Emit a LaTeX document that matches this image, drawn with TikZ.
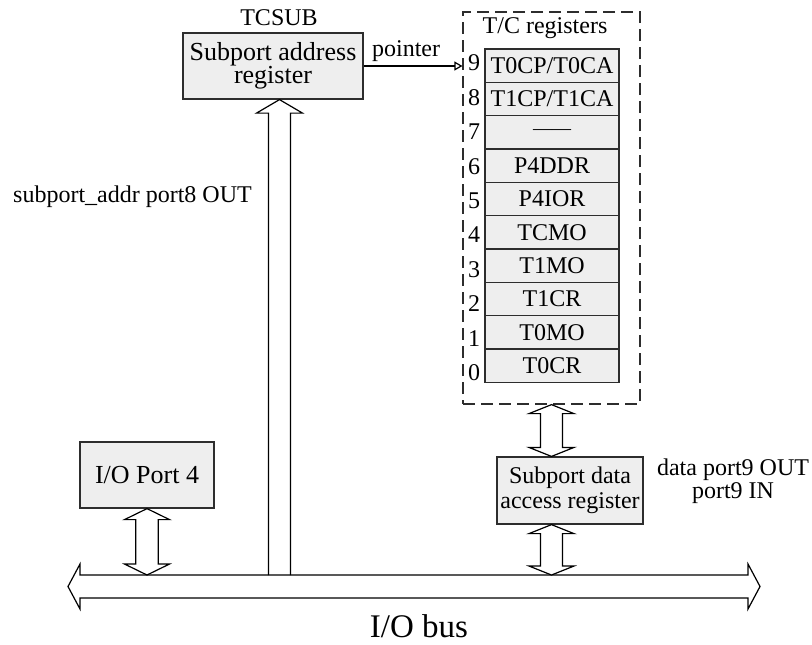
\documentclass[tikz,border=0pt]{standalone}
\usepackage{fontspec}
\setmainfont{Liberation Serif}
\usetikzlibrary{calc,arrows.meta}

\definecolor{regfill}{RGB}{238,238,238}
\definecolor{regline}{RGB}{45,45,45}

\tikzset{
  regbox/.style = {draw=regline, fill=regfill, line width=0.6pt, align=center, inner sep=0pt},
  rowbox/.style = {regbox, minimum width=67pt, minimum height=16.67pt},
  hollow/.style = {draw=black, line width=0.6pt, fill=white, line join=miter},
  txt/.style = {inner sep=0pt, align=center, font=\fontsize{12}{10}\selectfont}
}

% hollow double arrow: tips #1 and #2, shaft half width #3, head length #4
\newcommand{\twoway}[4]{%
  \draw[hollow] (#1)
    -- ($(#1)!#4!(#2)!11.25pt!90:(#2)$)
    -- ($(#1)!#4!(#2)!#3!90:(#2)$)
    -- ($(#2)!#4!(#1)!#3!-90:(#1)$)
    -- ($(#2)!#4!(#1)!11.25pt!-90:(#1)$)
    -- (#2)
    -- ($(#2)!#4!(#1)!11.25pt!90:(#1)$)
    -- ($(#2)!#4!(#1)!#3!90:(#1)$)
    -- ($(#1)!#4!(#2)!#3!-90:(#2)$)
    -- ($(#1)!#4!(#2)!11.25pt!-90:(#2)$)
    -- cycle;
}

\begin{document}
\begin{tikzpicture}[x=0.5pt, y=-0.5pt]
  \useasboundingbox (0,0) rectangle (812,644);

  % subport address register
  \node[regbox, minimum width=90pt, minimum height=33pt,
        font=\fontsize{13}{11.5}\selectfont] (addr) at (273,66) {Subport address\\register};
  \node[txt] (tcsub) at (279,18) {TCSUB};
  \node[txt] (addrlbl) at (132.5,197) {subport\_addr port8 OUT};

  % T/C register file
  \node[draw=regline, line width=0.6pt, dash pattern=on 6pt off 3pt,
        minimum width=88.5pt, minimum height=196pt] (tcbox) at (551.5,208) {};
  \node[txt] (tctitle) at (545,28) {T/C registers};
  \foreach \n/\t [count=\k from 0] in {9/{T0CP/T0CA}, 8/{T1CP/T1CA},
      7/{{\fontsize{9.5}{10}\selectfont ——}}, 6/P4DDR, 5/P4IOR,
      4/TCMO, 3/T1MO, 2/T1CR, 1/T0MO, 0/T0CR}
  {
    \node[rowbox, font=\fontsize{12}{10}\selectfont] (r\n) at (552,{65.67+33.33*\k}) {\t};
    \node[txt, anchor=east] (n\n) at ($(r\n.west)+(-4,{-2.7+1.08*\k})$) {\n};
  }

  % pointer into the register file
  \draw[line width=0.6pt, -{Triangle[open, length=4pt, width=4.5pt]}]
    (addr.east) -- node[above, inner sep=2pt, font=\fontsize{12}{10}\selectfont, pos=0.43] {pointer}
    (addr.east -| tcbox.west);

  % subport data access register
  \node[regbox, minimum width=73pt, minimum height=33.5pt,
        font=\fontsize{12}{12.5}\selectfont] (dreg) at (570,490.5) {Subport data\\access register};
  \node[txt] (datalbl) at (733,481) {data port9 OUT\\port9 IN};

  % I/O port 4
  \node[regbox, minimum width=67pt, minimum height=33pt,
        font=\fontsize{13}{12}\selectfont] (port4) at (147,475) {I/O Port 4};

  % I/O bus
  \coordinate (busL) at (68,586.5);
  \coordinate (busR) at (760,586.5);
  \coordinate (bustop) at ($(busL)+(0,-11.5)$);
  \twoway{busL}{busR}{5.75pt}{6pt}
  \node[inner sep=0pt, font=\fontsize{16.5}{18}\selectfont] (buslbl) at (419,626) {I/O bus};

  % bus connections
  \coordinate (p4bot) at (port4.south |- bustop);
  \twoway{port4.south}{p4bot}{5.65pt}{5.5pt}

  \coordinate (tctop) at (tcbox.south |- dreg.north);
  \twoway{tcbox.south}{tctop}{5.5pt}{4.5pt}

  \coordinate (dtop) at (tcbox.south |- dreg.south);
  \coordinate (dbot) at (tcbox.south |- bustop);
  \twoway{dtop}{dbot}{5.5pt}{4.5pt}

  % address path up to the subport address register
  \coordinate (atip) at ($(addr.south)+(6.5,0)$);
  \coordinate (abot) at (atip |- bustop);
  \draw[line width=0.6pt, line join=miter]
    ($(abot)!5.5pt!90:(atip)$)
    -- ($(atip)!6.75pt!(abot)!5.5pt!-90:(abot)$)
    -- ($(atip)!6.75pt!(abot)!11.5pt!-90:(abot)$)
    -- (atip)
    -- ($(atip)!6.75pt!(abot)!11.5pt!90:(abot)$)
    -- ($(atip)!6.75pt!(abot)!5.5pt!90:(abot)$)
    -- ($(abot)!5.5pt!-90:(atip)$);

\end{tikzpicture}
\end{document}
